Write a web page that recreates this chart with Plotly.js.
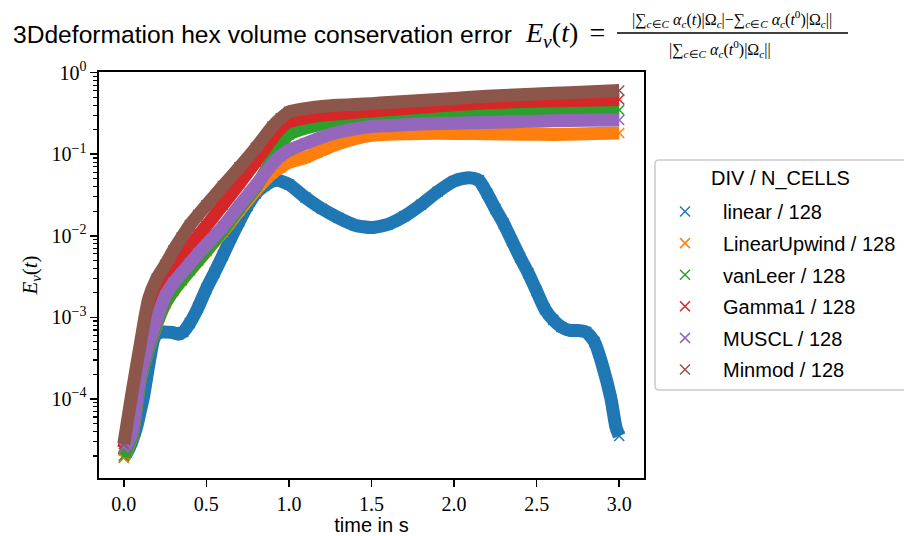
<!DOCTYPE html>
<html>
<head>
<meta charset="utf-8">
<script src="https://cdn.plot.ly/plotly-3.0.1.min.js"></script>
<style>html,body{margin:0;padding:0;background:#fff;}#chart{width:904px;height:536px;}</style>
</head>
<body>
<div id="chart"></div>
<script>
// ---------------- data ----------------
const seriesNames = ["linear", "LinearUpwind", "vanLeer", "Gamma1", "MUSCL", "Minmod"];
const nCells = 128;
const legendTitle = "DIV / N_CELLS";

const timeLinear = [0, 0.02, 0.05, 0.08, 0.1, 0.12, 0.15, 0.18, 0.2, 0.22, 0.25, 0.3, 0.33, 0.36, 0.4, 0.45, 0.5, 0.55, 0.6, 0.65, 0.7, 0.75, 0.8, 0.85, 0.9, 0.93, 1.0, 1.1, 1.2, 1.3, 1.4, 1.5, 1.6, 1.7, 1.8, 1.9, 2.0, 2.05, 2.1, 2.15, 2.2, 2.25, 2.3, 2.35, 2.4, 2.45, 2.5, 2.55, 2.6, 2.65, 2.7, 2.75, 2.8, 2.85, 2.9, 2.95, 2.98, 3.0];
const errLinear = [1.9e-5, 2.2e-5, 3.0e-5, 4.7e-5, 7.1e-5, 1.07e-4, 2.51e-4, 5.25e-4, 6.3e-4, 6.6e-4, 6.6e-4, 6.5e-4, 6.2e-4, 6.6e-4, 8.5e-4, 1.32e-3, 2.24e-3, 3.55e-3, 5.75e-3, 9.5e-3, 0.0151, 0.0234, 0.0331, 0.0407, 0.0468, 0.0479, 0.0427, 0.0295, 0.0214, 0.0166, 0.0135, 0.0126, 0.0138, 0.0174, 0.024, 0.0347, 0.0468, 0.0501, 0.0513, 0.0479, 0.0331, 0.0214, 0.0141, 8.7e-3, 5.4e-3, 3.47e-3, 2.09e-3, 1.26e-3, 9.3e-4, 7.6e-4, 6.9e-4, 6.9e-4, 6.6e-4, 5.0e-4, 2.51e-4, 1.0e-4, 4.5e-5, 3.5e-5];

const timeOther = [0, 0.02, 0.05, 0.1, 0.15, 0.2, 0.25, 0.3, 0.35, 0.4, 0.45, 0.5, 0.6, 0.7, 0.8, 0.9, 0.95, 1.0, 1.1, 1.2, 1.3, 1.4, 1.5, 1.6, 1.8, 2.0, 2.2, 2.4, 2.6, 2.8, 3.0];
const errLinearUpwind = [1.9e-5, 2.4e-5, 3.47e-5, 1.74e-4, 4.07e-4, 8.3e-4, 1.45e-3, 2.09e-3, 2.82e-3, 3.72e-3, 4.9e-3, 6.45e-3, 0.0112, 0.0204, 0.0363, 0.0589, 0.0692, 0.0794, 0.0912, 0.112, 0.135, 0.155, 0.17, 0.176, 0.18, 0.18, 0.178, 0.176, 0.175, 0.178, 0.182];
const errVanLeer = [2.0e-5, 2.5e-5, 3.55e-5, 1.78e-4, 4.17e-4, 8.5e-4, 1.48e-3, 2.14e-3, 2.88e-3, 3.8e-3, 5.0e-3, 6.6e-3, 0.0117, 0.0219, 0.0398, 0.087, 0.132, 0.174, 0.209, 0.234, 0.251, 0.266, 0.275, 0.285, 0.305, 0.32, 0.329, 0.335, 0.339, 0.344, 0.349];
const errGamma1 = [2.5e-5, 4.0e-5, 8.9e-5, 3.55e-4, 1.12e-3, 2.09e-3, 2.95e-3, 3.8e-3, 5.25e-3, 7.24e-3, 0.01, 0.0132, 0.024, 0.0437, 0.0813, 0.158, 0.209, 0.251, 0.279, 0.299, 0.313, 0.327, 0.339, 0.351, 0.376, 0.403, 0.427, 0.442, 0.452, 0.46, 0.468];
const errMUSCL = [2.5e-5, 2.82e-5, 3.98e-5, 2.0e-4, 4.68e-4, 9.5e-4, 1.82e-3, 2.63e-3, 3.47e-3, 4.57e-3, 6.03e-3, 7.76e-3, 0.0129, 0.0234, 0.0417, 0.0759, 0.0955, 0.112, 0.135, 0.162, 0.186, 0.204, 0.219, 0.224, 0.234, 0.24, 0.245, 0.251, 0.257, 0.26, 0.263];
const errMinmod = [2.8e-5, 5.0e-5, 1.2e-4, 4.7e-4, 1.66e-3, 3.0e-3, 4.37e-3, 6.6e-3, 9.5e-3, 0.0135, 0.018, 0.0237, 0.0407, 0.069, 0.12, 0.219, 0.275, 0.331, 0.363, 0.385, 0.398, 0.407, 0.417, 0.43, 0.456, 0.483, 0.513, 0.537, 0.558, 0.58, 0.603];

const xTickVals = [0, 0.5, 1.0, 1.5, 2.0, 2.5, 3.0];
const xTickText = ["0.0", "0.5", "1.0", "1.5", "2.0", "2.5", "3.0"];
const yTickVals = [1e-4, 1e-3, 1e-2, 1e-1, 1];
const yTickText = ["10<sup>\u22124</sup>", "10<sup>\u22123</sup>", "10<sup>\u22122</sup>", "10<sup>\u22121</sup>", "10<sup>0</sup>"];

// ---------------- styling / layout ----------------
const colors = ["#1f77b4", "#ff7f0e", "#2ca02c", "#d62728", "#9467bd", "#8c564b"];
const seriesX = [timeLinear, timeOther, timeOther, timeOther, timeOther, timeOther];
const seriesY = [errLinear, errLinearUpwind, errVanLeer, errGamma1, errMUSCL, errMinmod];

const W = 904, H = 536;
const L = 99, R = 644, T = 72, B = 478;
const px2x = p => (p - L) / (R - L);
const py2y = p => (B - p) / (B - T);

const SANS = "Liberation Sans, Arial, sans-serif";
const SERIF = "Liberation Serif, Times New Roman, serif";

const traces = [];
seriesNames.forEach((name, i) => {
  traces.push({
    x: seriesX[i], y: seriesY[i], type: "scatter", mode: "lines",
    line: {color: colors[i], width: 13, shape: "spline", smoothing: 0.6},
    showlegend: false, legendgroup: name, hoverinfo: "skip"
  });
  traces.push({
    x: seriesX[i], y: seriesY[i], type: "scatter", mode: "markers",
    name: name + " / " + nCells, legendgroup: name,
    marker: {symbol: "x-thin", size: 10, color: colors[i], line: {color: colors[i], width: 1.5}},
    hoverinfo: "skip"
  });
});

// minor tick positions on the log axis (2..9 per decade)
const minorVals = [];
for (let e = -5; e <= -1; e++) for (let m = 2; m <= 9; m++) minorVals.push(m * Math.pow(10, e));

const fracX0 = 617, fracX1 = 848, fracY = 33;
const legX0 = 655, legX1 = 912, legY0 = 160, legY1 = 390, rad = 4;
const lx0 = px2x(legX0), lx1 = px2x(legX1), ly0 = py2y(legY1), ly1 = py2y(legY0);
const rx = rad / (R - L), ry = rad / (B - T);
const legendPath = `M ${lx0 + rx},${ly1} L ${lx1},${ly1} L ${lx1},${ly0} L ${lx0 + rx},${ly0} Q ${lx0},${ly0} ${lx0},${ly0 + ry} L ${lx0},${ly1 - ry} Q ${lx0},${ly1} ${lx0 + rx},${ly1} Z`;

const numText = "|\u2211<sub><i>c</i>\u2208<i>C</i></sub> <i>\u03b1<sub>c</sub></i>(<i>t</i>)|\u03a9<sub><i>c</i></sub>|\u2212\u2211<sub><i>c</i>\u2208<i>C</i></sub> <i>\u03b1<sub>c</sub></i>(<i>t</i><sup>0</sup>)|\u03a9<sub><i>c</i></sub>||";
const denText = "|\u2211<sub><i>c</i>\u2208<i>C</i></sub> <i>\u03b1<sub>c</sub></i>(<i>t</i><sup>0</sup>)|\u03a9<sub><i>c</i></sub>||";

const layout = {
  width: W, height: H,
  paper_bgcolor: "#fff", plot_bgcolor: "#fff",
  margin: {l: L, r: W - R, t: T, b: H - B, autoexpand: false},
  showlegend: true, hovermode: false,
  font: {family: SANS, size: 20, color: "#000"},
  xaxis: {
    range: [-0.15, 3.15], tickmode: "array", tickvals: xTickVals, ticktext: xTickText,
    ticks: "outside", ticklen: 7, tickwidth: 1.6, tickcolor: "#000",
    showline: true, linewidth: 1.6, linecolor: "#000", mirror: true,
    showgrid: false, zeroline: false,
    tickfont: {family: SERIF, size: 20, color: "#000"},
    title: {text: "time in s", font: {family: SANS, size: 20, color: "#000"}, standoff: 6}
  },
  yaxis: {
    type: "log", range: [-4.97, 0.008], tickmode: "array", tickvals: yTickVals, ticktext: yTickText,
    ticks: "outside", ticklen: 7, tickwidth: 1.6, tickcolor: "#000",
    minor: {tickmode: "array", tickvals: minorVals, ticks: "outside", ticklen: 4, tickwidth: 1.2, tickcolor: "#000", showgrid: false},
    showline: true, linewidth: 1.6, linecolor: "#000", mirror: true,
    showgrid: false, zeroline: false,
    tickfont: {family: SERIF, size: 20, color: "#000"},
    title: {text: "<i>E<sub>v</sub></i>(<i>t</i>)", font: {family: SERIF, size: 21, color: "#000"}, standoff: 8}
  },
  legend: {
    x: px2x(647), xanchor: "left", y: py2y(192), yanchor: "top",
    bgcolor: "rgba(0,0,0,0)", borderwidth: 0,
    font: {family: SANS, size: 20, color: "#000"},
    itemwidth: 66, tracegroupgap: 2.6, traceorder: "grouped"
  },
  shapes: [
    {type: "path", xref: "paper", yref: "paper", path: legendPath, line: {color: "#cccccc", width: 1.6}, fillcolor: "rgba(255,255,255,0.8)", layer: "below"},
    {type: "line", xref: "paper", yref: "paper", x0: px2x(fracX0), x1: px2x(fracX1), y0: py2y(fracY), y1: py2y(fracY), line: {color: "#000", width: 1.5}}
  ],
  annotations: [
    {xref: "paper", yref: "paper", x: px2x(11), y: py2y(34), xanchor: "left", yanchor: "middle", showarrow: false,
     text: "3Ddeformation hex volume conservation error", font: {family: SANS, size: 24.6, color: "#000"}},
    {xref: "paper", yref: "paper", x: px2x(523), y: py2y(34), xanchor: "left", yanchor: "middle", showarrow: false,
     text: "<i>E<sub>v</sub></i>(<i>t</i>)\u2009\u2009=", font: {family: SERIF, size: 28, color: "#000"}},
    {xref: "paper", yref: "paper", x: px2x(732), y: py2y(19), xanchor: "center", yanchor: "middle", showarrow: false,
     text: numText, font: {family: SERIF, size: 16, color: "#000"}},
    {xref: "paper", yref: "paper", x: px2x(720), y: py2y(49), xanchor: "center", yanchor: "middle", showarrow: false,
     text: denText, font: {family: SERIF, size: 16, color: "#000"}},
    {xref: "paper", yref: "paper", x: px2x(780), y: py2y(178), xanchor: "center", yanchor: "middle", showarrow: false,
     text: legendTitle, font: {family: SANS, size: 20, color: "#000"}}
  ]
};

Plotly.newPlot("chart", traces, layout, {staticPlot: true, displayModeBar: false});
</script>
</body>
</html>
